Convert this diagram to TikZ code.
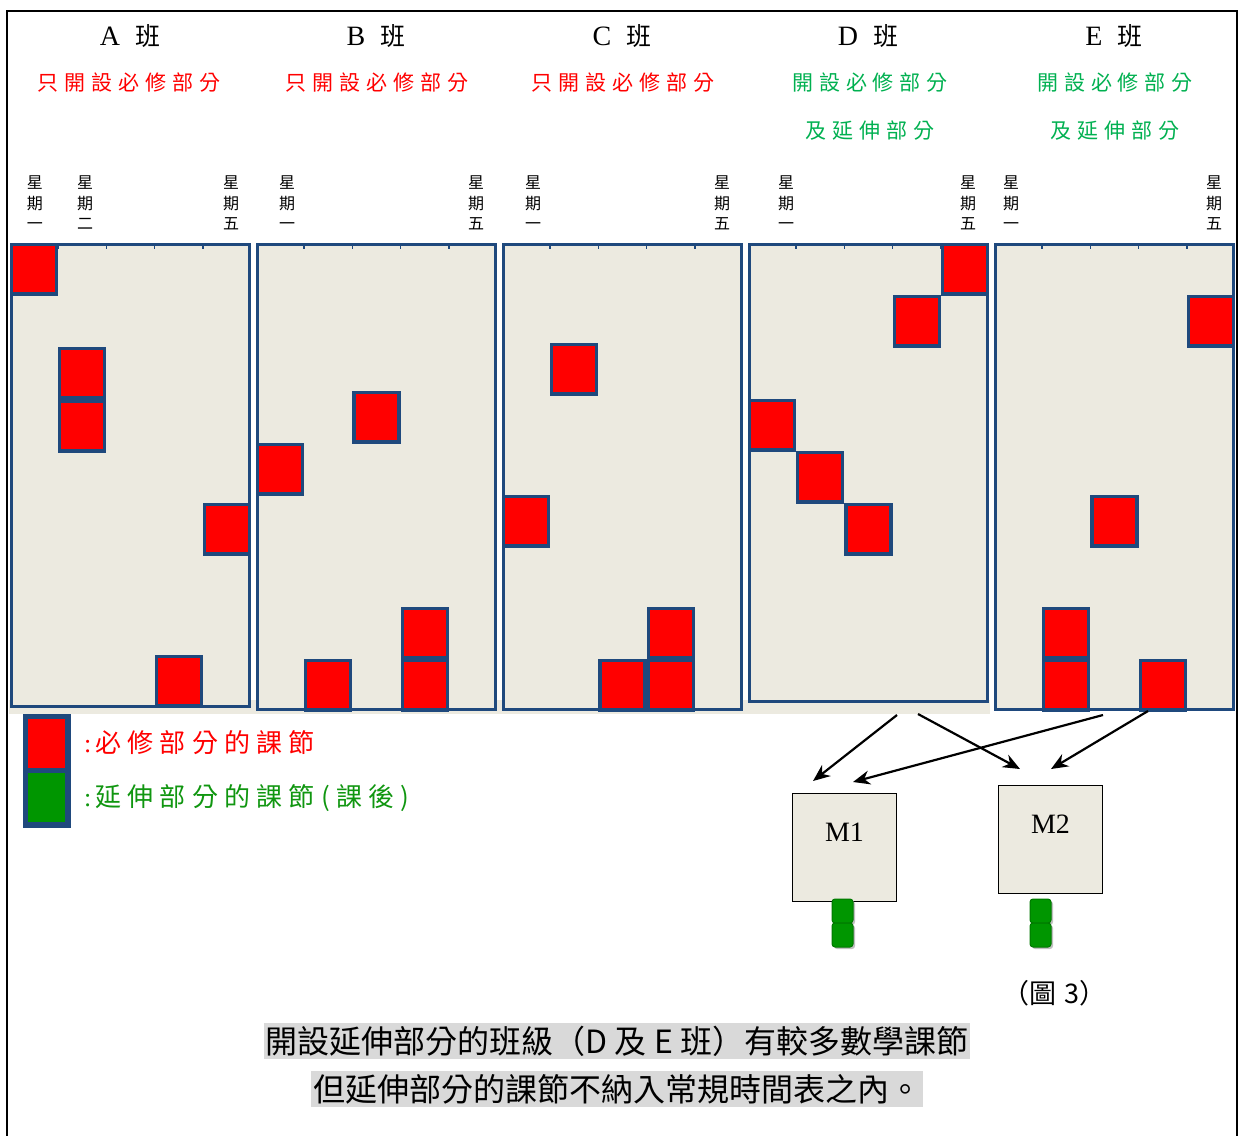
\documentclass[tikz,border=0pt]{standalone}
\usepackage{fontspec}
\setmainfont{Liberation Serif}
\newfontfamily\cjk{Noto Sans CJK TC}
\newfontfamily\cjkgap[LetterSpace=28]{Noto Sans CJK TC}
\newfontfamily\cjkkey[LetterSpace=24]{Noto Sans CJK TC}
\usetikzlibrary{arrows.meta}
\definecolor{frameblue}{RGB}{31,73,125}
\definecolor{paper}{RGB}{236,234,224}
\definecolor{extgreen}{RGB}{0,150,0}
\definecolor{extdark}{RGB}{0,120,0}
\definecolor{keygreen}{RGB}{16,150,16}
\definecolor{headgreen}{RGB}{0,176,80}
\definecolor{capgray}{RGB}{217,217,217}
\begin{document}
\begin{tikzpicture}[x=1pt,y=-1pt,
    panel/.style={draw=frameblue,line width=3.3pt,fill=paper},
    lesson/.style={draw=frameblue,line width=3.3pt,fill=red},
    classhead/.style={font=\fontsize{28}{30}\selectfont,inner sep=0pt},
    must/.style={text=red,font=\cjkgap\fontsize{21}{24}\selectfont,inner sep=0pt},
    ext/.style={text=headgreen,font=\cjkgap\fontsize{21}{24}\selectfont,inner sep=0pt},
    day/.style={font=\cjk\fontsize{16}{20.5}\selectfont,align=center,inner sep=0pt},
    arr/.style={-{Stealth[length=17pt,width=14pt]},line width=2.2pt},
    mbox/.style={draw=black,line width=1.5pt,fill=paper,minimum width=104pt,
      inner sep=4pt,text height=44pt,text depth=56pt,font=\fontsize{28}{30}\selectfont},
    extra/.style={draw=extdark,fill=extgreen,rounded corners=3pt,line width=1pt},
    keytext/.style={anchor=west,font=\cjkkey\fontsize{26}{28}\selectfont,inner sep=0pt},
    caption/.style={fill=capgray,font=\cjk\fontsize{32}{36}\selectfont,inner xsep=2pt,inner ysep=3pt}]
\useasboundingbox (0,0) rectangle (1238,1135);
% outer frame
\draw[line width=2pt] (7,1140) -- (7,11) -- (1237,11) -- (1237,1140);

% class headings
\foreach \n/\x in {A/130,B/376,C/622,D/868,E/1114}
    \node[classhead] (h\n) at (\x,36) {\n\hspace{15pt}{\cjk\fontsize{25}{28}\selectfont 班}};
\foreach \n/\x in {A/129,B/377,C/623}
    \node[must] (s\n) at (\x,83) {只開設必修部分};
\foreach \n/\x in {D/870,E/1115}
{
    \node[ext] (s\n) at (\x,83) {開設必修部分};
    \node[ext] (t\n) at (\x,131) {及延伸部分};
}

% weekday labels
\foreach \x/\d [count=\i] in {35/一,85/二,231/五,287/一,476/五,533/一,722/五,786/一,968/五,1011/一,1214/五}
    \node[day] (day\i) at (\x,203) {星\\期\\\d};

% timetables
\fill[paper] (9,700) rectangle (990,714);
\foreach \l/\b in {10/708,256/711,502/711,748/703,994/711}
{
    \draw[panel] (\l+1.6,244.6) rectangle (\l+239.4,\b-1.6);
    \foreach \k in {1,...,4}
    \draw[frameblue,line width=1.5pt] (\l+\k*48.2,245) -- +(0,4);
}
\foreach \c/\t in {0/243,1/347,1/400,4/503,3/655}
    \draw[lesson] ({10+\c*48.2+1.6},{\t+1.6}) rectangle +(45,49.3);
\foreach \c/\t in {2/391,0/443,3/607,3/659,1/659}
    \draw[lesson] ({256+\c*48.2+1.6},{\t+1.6}) rectangle +(45,49.3);
\foreach \c/\t in {1/343,0/495,3/607,2/659,3/659}
    \draw[lesson] ({502+\c*48.2+1.6},{\t+1.6}) rectangle +(45,49.3);
\foreach \c/\t in {4/243,3/295,0/399,1/451,2/503}
    \draw[lesson] ({748+\c*48.2+1.6},{\t+1.6}) rectangle +(45,49.3);
\foreach \c/\t in {4/295,2/495,1/607,1/659,3/659}
    \draw[lesson] ({994+\c*48.2+1.6},{\t+1.6}) rectangle +(45,49.3);

% legend
\fill[frameblue] (23,714) rectangle (71,828);
\fill[red] (28,719) rectangle (65,768);
\fill[extgreen] (28,773) rectangle (65,822);
\node[keytext,text=red] (keyMust) at (84,743) {{\rmfamily:}\hspace{4pt}必修部分的課節};
\node[keytext,text=keygreen] (keyExt) at (84,798) {{\rmfamily:}\hspace{4pt}延伸部分的課節(課後)};

% extension rooms
\node[mbox] (m1) at (844.5,847.5) {M1};
\node[mbox] (m2) at (1050.5,839.5) {M2};
\coordinate (dL) at (897,715);
\coordinate (dR) at (918,714);
\coordinate (eL) at (1103,715);
\coordinate (eR) at (1148,711);
\coordinate (m1a) at (813,781);
\coordinate (m1b) at (853,782);
\coordinate (m2a) at (1020,769);
\coordinate (m2b) at (1051,769);
\draw[arr] (dL) -- (m1a);
\draw[arr] (dR) -- (m2a);
\draw[arr] (eL) -- (m1b);
\draw[arr] (eR) -- (m2b);
\foreach \x in {832,1030}
    \foreach \y in {899,923}
    {
        \fill[gray!50,rounded corners=3pt] (\x+2,\y+2) rectangle +(21,24);
        \draw[extra] (\x,\y) rectangle +(21,24);
    }
\node[font=\cjk\fontsize{27}{28}\selectfont,inner sep=0pt] (fig) at (1054,993) {（圖\hspace{8pt}3）};

% caption
\node[caption] (cap1) at (617,1041) {開設延伸部分的班級（D 及 E 班）有較多數學課節};
\node[caption] (cap2) at (617,1089) {但延伸部分的課節不納入常規時間表之內。};
\end{tikzpicture}
\end{document}
